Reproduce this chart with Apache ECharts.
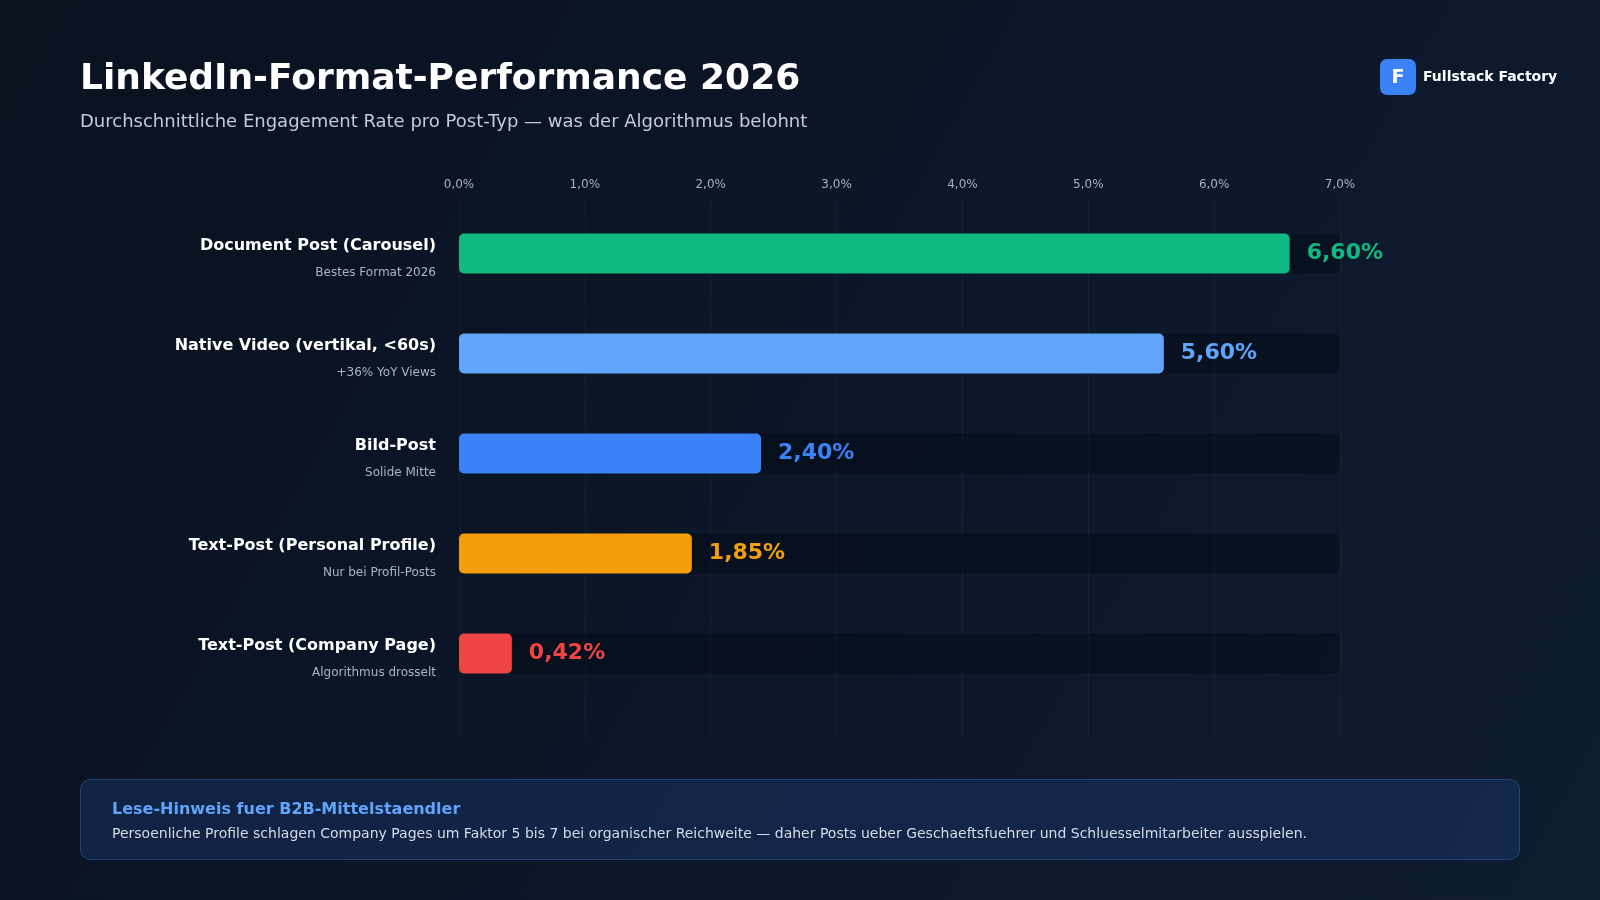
<!DOCTYPE html>
<html>
<head>
<meta charset="utf-8">
<script src="https://cdn.jsdelivr.net/npm/echarts@6/dist/echarts.min.js"></script>
<style>
  html, body { margin: 0; padding: 0; background: #0b1322; }
  #chart { width: 1600px; height: 900px; }
</style>
</head>
<body>
<div id="chart"></div>
<script>
const categories = [
  "Document Post (Carousel)",
  "Native Video (vertikal, <60s)",
  "Bild-Post",
  "Text-Post (Personal Profile)",
  "Text-Post (Company Page)"
];
const subLabels = [
  "Bestes Format 2026",
  "+36% YoY Views",
  "Solide Mitte",
  "Nur bei Profil-Posts",
  "Algorithmus drosselt"
];
const engagementRate = [6.6, 5.6, 2.4, 1.85, 0.42];
const barColors = ["#10b981", "#60a5fa", "#3b82f6", "#f59e0b", "#ef4444"];
const axisMax = 7;
const axisTicks = [0, 1, 2, 3, 4, 5, 6, 7];

const FONT = "DejaVu Sans";
const fmtPct = (v, d) => v.toFixed(d).replace(".", ",") + "%";

const chart = echarts.init(document.getElementById("chart"));

const option = {
  backgroundColor: {
    type: "linear",
    x: 0, y: 0, x2: 1, y2: 1,
    colorStops: [
      { offset: 0, color: "#0a111f" },
      { offset: 1, color: "#0e1c32" }
    ]
  },
  textStyle: { fontFamily: FONT },
  title: [
    {
      text: "LinkedIn-Format-Performance 2026",
      left: 80,
      top: 62,
      padding: 0,
      textStyle: { color: "#ffffff", fontSize: 36, fontWeight: "bold", fontFamily: FONT }
    },
    {
      text: "Durchschnittliche Engagement Rate pro Post-Typ — was der Algorithmus belohnt",
      left: 80,
      top: 113,
      padding: 0,
      textStyle: { color: "#c3cbd9", fontSize: 18, fontWeight: "normal", fontFamily: FONT }
    }
  ],
  grid: [
    { left: 459, right: 260, top: 203.5, height: 500 },
    { left: 459, right: 260, top: 199, bottom: 163 }
  ],
  xAxis: [
    {
      gridIndex: 0,
      type: "value",
      min: 0,
      max: axisMax,
      show: false
    },
    {
      gridIndex: 1,
      type: "value",
      position: "top",
      min: 0,
      max: axisMax,
      interval: 1,
      axisLine: { show: false },
      axisTick: { show: false },
      axisLabel: {
        color: "#a7b1c2",
        fontSize: 12,
        margin: 8,
        formatter: (v) => axisTicks.includes(v) ? fmtPct(v, 1) : ""
      },
      splitLine: { show: true, lineStyle: { color: "rgba(148,163,184,0.07)", width: 1 } }
    }
  ],
  yAxis: [
    {
      gridIndex: 0,
      type: "category",
      inverse: true,
      data: categories,
      axisLine: { show: false },
      axisTick: { show: false },
      axisLabel: {
        margin: 23,
        align: "right",
        formatter: (v, i) => "{name|" + v + "}\n{sub|" + subLabels[i] + "}",
        rich: {
          name: { color: "#ffffff", fontSize: 16, fontWeight: "bold", fontFamily: FONT, lineHeight: 38, align: "right" },
          sub: { color: "#aab4c4", fontSize: 12, fontFamily: FONT, lineHeight: 15, align: "right" }
        }
      }
    },
    {
      gridIndex: 1,
      type: "value",
      show: false
    }
  ],
  series: [
    {
      name: "track",
      type: "bar",
      xAxisIndex: 0,
      yAxisIndex: 0,
      data: categories.map(() => axisMax),
      barWidth: 40,
      itemStyle: { color: "rgba(3,8,18,0.45)", borderRadius: 6 },
      silent: true,
      z: 1
    },
    {
      name: "Engagement Rate",
      type: "bar",
      xAxisIndex: 0,
      yAxisIndex: 0,
      barWidth: 40,
      barGap: "-100%",
      z: 2,
      data: engagementRate.map((v, i) => ({
        value: v,
        itemStyle: { color: barColors[i], borderRadius: 5 },
        label: { color: barColors[i] }
      })),
      label: {
        show: true,
        position: "right",
        distance: 17,
        fontSize: 22,
        fontWeight: "bold",
        fontFamily: FONT,
        formatter: (p) => fmtPct(p.value, 2)
      }
    }
  ],
  graphic: [
    {
      type: "rect",
      shape: { x: 1380, y: 59, width: 36, height: 36, r: 7 },
      style: { fill: "#3b82f6" }
    },
    {
      type: "text",
      x: 1398,
      y: 78,
      style: {
        text: "F",
        fill: "#ffffff",
        font: "bold 19px 'DejaVu Sans'",
        align: "center",
        verticalAlign: "middle"
      }
    },
    {
      type: "text",
      x: 1423,
      y: 77,
      style: {
        text: "Fullstack Factory",
        fill: "#ffffff",
        font: "bold 14px 'DejaVu Sans'",
        verticalAlign: "middle"
      }
    },
    {
      type: "rect",
      shape: { x: 80.5, y: 779.5, width: 1439, height: 80, r: 10 },
      style: { fill: "rgba(30,64,125,0.35)", stroke: "rgba(59,110,190,0.45)", lineWidth: 1 }
    },
    {
      type: "text",
      x: 112,
      y: 810,
      style: {
        text: "Lese-Hinweis fuer B2B-Mittelstaendler",
        fill: "#60a5fa",
        font: "bold 16px 'DejaVu Sans'",
        verticalAlign: "middle"
      }
    },
    {
      type: "text",
      x: 112,
      y: 834,
      style: {
        text: "Persoenliche Profile schlagen Company Pages um Faktor 5 bis 7 bei organischer Reichweite — daher Posts ueber Geschaeftsfuehrer und Schluesselmitarbeiter ausspielen.",
        fill: "#d3dbe8",
        font: "14px 'DejaVu Sans'",
        verticalAlign: "middle"
      }
    }
  ]
};

chart.setOption(option);
</script>
</body>
</html>
